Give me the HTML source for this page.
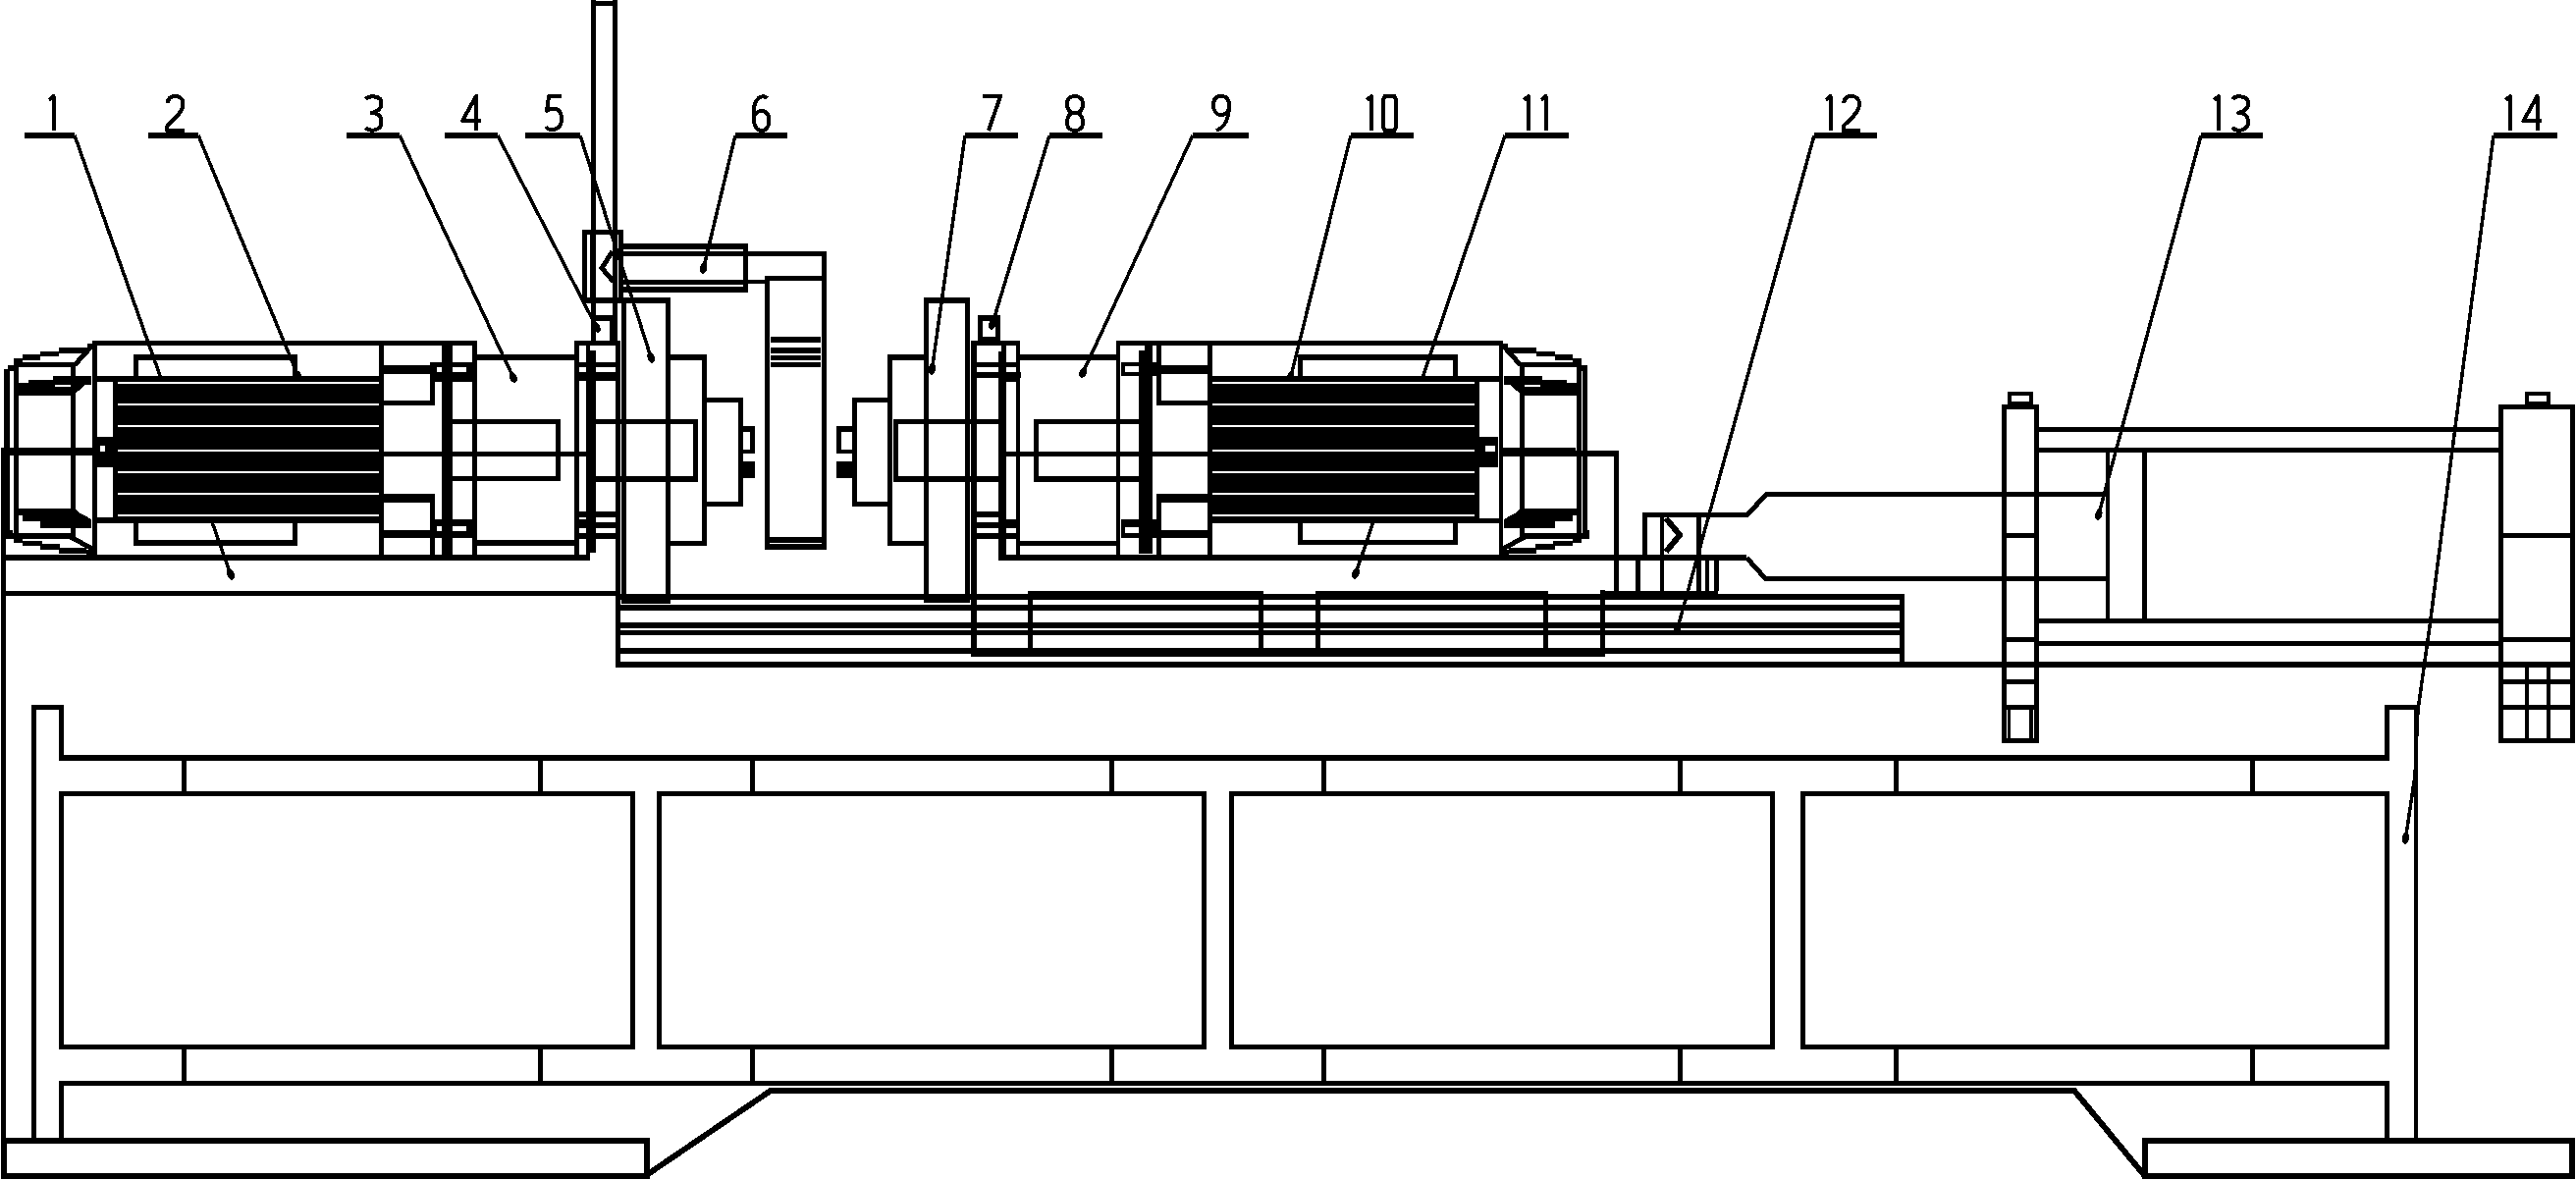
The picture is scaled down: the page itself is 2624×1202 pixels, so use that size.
<!DOCTYPE html>
<html><head><meta charset="utf-8"><style>
html,body{margin:0;padding:0;background:#fff;}
svg{display:block;}
</style></head><body>
<svg width="2624" height="1202" viewBox="0 0 2624 1202" shape-rendering="crispEdges">
<rect width="2624" height="1202" fill="#fff"/>
<g fill="#000">
<rect x="25" y="135" width="51" height="6"/>
<path transform="translate(53.5,96)" d="M-3.5,6 L1,2 L1,37" fill="none" stroke="#000" stroke-width="4" stroke-linejoin="round"/>
<path d="M76,138 L236,588" fill="none" stroke="#000" stroke-width="3.5" stroke-linecap="butt" stroke-linejoin="miter"/>
<ellipse cx="235.0" cy="585.2" rx="6" ry="3.6" transform="rotate(70.4 235.0 585.2)"/>
<rect x="151" y="135" width="51" height="6"/>
<path transform="translate(178.5,96)" d="M-8,9 C-7,3 -3,2 0,2 C5,2 8,5 8,10 C8,17 1,24 -8,32 L-8.5,37 L9,37" fill="none" stroke="#000" stroke-width="4" stroke-linejoin="round"/>
<path d="M202,138 L305,386" fill="none" stroke="#000" stroke-width="3.5" stroke-linecap="butt" stroke-linejoin="miter"/>
<ellipse cx="303.8" cy="383.2" rx="6" ry="3.6" transform="rotate(67.4 303.8 383.2)"/>
<rect x="353" y="135" width="54" height="6"/>
<path transform="translate(380.5,96)" d="M-8,5 C-5,1 8,1 8,9 C8,16 3,18 -2,19 C4,19 8,22 8,28 C8,37 -3,39 -8,34" fill="none" stroke="#000" stroke-width="4" stroke-linejoin="round"/>
<path d="M407,138 L524,387" fill="none" stroke="#000" stroke-width="3.5" stroke-linecap="butt" stroke-linejoin="miter"/>
<ellipse cx="522.7" cy="384.3" rx="6" ry="3.6" transform="rotate(64.8 522.7 384.3)"/>
<rect x="453" y="135" width="54" height="6"/>
<path transform="translate(480,96)" d="M5,37 L5,2 L-9,27 L9.5,27" fill="none" stroke="#000" stroke-width="4" stroke-linejoin="round"/>
<path d="M507,138 L609,336" fill="none" stroke="#000" stroke-width="3.5" stroke-linecap="butt" stroke-linejoin="miter"/>
<ellipse cx="607.6" cy="333.3" rx="6" ry="3.6" transform="rotate(62.7 607.6 333.3)"/>
<rect x="535" y="135" width="56" height="6"/>
<path transform="translate(564,96)" d="M8,2 L-5,2 L-7,17 C-2,13 8,13 8,25 C8,37 -4,39 -8,33" fill="none" stroke="#000" stroke-width="4" stroke-linejoin="round"/>
<path d="M591,138 L664,367" fill="none" stroke="#000" stroke-width="3.5" stroke-linecap="butt" stroke-linejoin="miter"/>
<ellipse cx="663.1" cy="364.1" rx="6" ry="3.6" transform="rotate(72.3 663.1 364.1)"/>
<rect x="749" y="135" width="53" height="6"/>
<path transform="translate(775.5,96)" d="M6,4 C1,0 -8,3 -8,20 C-8,34 -4,37 0,37 C5,37 8,33 8,27 C8,20 4,17 0,17 C-4,17 -8,21 -8,26" fill="none" stroke="#000" stroke-width="4" stroke-linejoin="round"/>
<path d="M749,138 L716,276" fill="none" stroke="#000" stroke-width="3.5" stroke-linecap="butt" stroke-linejoin="miter"/>
<ellipse cx="716.7" cy="273.1" rx="6" ry="3.6" transform="rotate(103.4 716.7 273.1)"/>
<rect x="983" y="135" width="54" height="6"/>
<path transform="translate(1010,96)" d="M-9,2 L9,2 L-3,37" fill="none" stroke="#000" stroke-width="4" stroke-linejoin="round"/>
<path d="M983,138 L949,379" fill="none" stroke="#000" stroke-width="3.5" stroke-linecap="butt" stroke-linejoin="miter"/>
<ellipse cx="949.4" cy="376.0" rx="6" ry="3.6" transform="rotate(98.0 949.4 376.0)"/>
<rect x="1069" y="135" width="54" height="6"/>
<path transform="translate(1095,96)" d="M0,19 C-6,19 -8,14 -8,10 C-8,4 -4,2 0,2 C4,2 8,4 8,10 C8,14 6,19 0,19 C-6,19 -8,24 -8,29 C-8,35 -4,37 0,37 C4,37 8,35 8,29 C8,24 6,19 0,19" fill="none" stroke="#000" stroke-width="4" stroke-linejoin="round"/>
<path d="M1069,138 L1010,333" fill="none" stroke="#000" stroke-width="3.5" stroke-linecap="butt" stroke-linejoin="miter"/>
<ellipse cx="1010.9" cy="330.1" rx="6" ry="3.6" transform="rotate(106.8 1010.9 330.1)"/>
<rect x="1215" y="135" width="57" height="6"/>
<path transform="translate(1244,96)" d="M8,12 C8,18 4,21 0,21 C-5,21 -8,17 -8,11 C-8,4 -4,2 0,2 C5,2 8,5 8,12 C8,25 3,34 -5,37" fill="none" stroke="#000" stroke-width="4" stroke-linejoin="round"/>
<path d="M1215,138 L1102,382" fill="none" stroke="#000" stroke-width="3.5" stroke-linecap="butt" stroke-linejoin="miter"/>
<ellipse cx="1103.3" cy="379.3" rx="6" ry="3.6" transform="rotate(114.8 1103.3 379.3)"/>
<rect x="1376" y="135" width="64" height="6"/>
<path transform="translate(1396,96)" d="M-3.5,6 L1,2 L1,37" fill="none" stroke="#000" stroke-width="4" stroke-linejoin="round"/>
<path transform="translate(1415.5,96)" d="M-5,2 L5,2 L6.5,6 L6.5,33 L5,37 L-5,37 L-6.5,33 L-6.5,6 Z" fill="none" stroke="#000" stroke-width="4" stroke-linejoin="round"/>
<path d="M1376,138 L1314,387" fill="none" stroke="#000" stroke-width="3.5" stroke-linecap="butt" stroke-linejoin="miter"/>
<ellipse cx="1314.7" cy="384.1" rx="6" ry="3.6" transform="rotate(104.0 1314.7 384.1)"/>
<rect x="1533" y="135" width="65" height="6"/>
<path transform="translate(1556,96)" d="M-3.5,6 L1,2 L1,37" fill="none" stroke="#000" stroke-width="4" stroke-linejoin="round"/>
<path transform="translate(1573.5,96)" d="M-3.5,6 L1,2 L1,37" fill="none" stroke="#000" stroke-width="4" stroke-linejoin="round"/>
<path d="M1533,138 L1380,587" fill="none" stroke="#000" stroke-width="3.5" stroke-linecap="butt" stroke-linejoin="miter"/>
<ellipse cx="1381.0" cy="584.2" rx="6" ry="3.6" transform="rotate(108.8 1381.0 584.2)"/>
<rect x="1848" y="135" width="64" height="6"/>
<path transform="translate(1863.5,96)" d="M-3.5,6 L1,2 L1,37" fill="none" stroke="#000" stroke-width="4" stroke-linejoin="round"/>
<path transform="translate(1886,96)" d="M-8,9 C-7,3 -3,2 0,2 C5,2 8,5 8,10 C8,17 1,24 -8,32 L-8.5,37 L9,37" fill="none" stroke="#000" stroke-width="4" stroke-linejoin="round"/>
<path d="M1848,138 L1708,643" fill="none" stroke="#000" stroke-width="3.5" stroke-linecap="butt" stroke-linejoin="miter"/>
<ellipse cx="1708.8" cy="640.1" rx="6" ry="3.6" transform="rotate(105.5 1708.8 640.1)"/>
<rect x="2242" y="135" width="63" height="6"/>
<path transform="translate(2259,96)" d="M-3.5,6 L1,2 L1,37" fill="none" stroke="#000" stroke-width="4" stroke-linejoin="round"/>
<path transform="translate(2282,96)" d="M-8,5 C-5,1 8,1 8,9 C8,16 3,18 -2,19 C4,19 8,22 8,28 C8,37 -3,39 -8,34" fill="none" stroke="#000" stroke-width="4" stroke-linejoin="round"/>
<path d="M2242,138 L2137,527" fill="none" stroke="#000" stroke-width="3.5" stroke-linecap="butt" stroke-linejoin="miter"/>
<ellipse cx="2137.8" cy="524.1" rx="6" ry="3.6" transform="rotate(105.1 2137.8 524.1)"/>
<rect x="2540" y="135" width="65" height="6"/>
<path transform="translate(2556,96)" d="M-3.5,6 L1,2 L1,37" fill="none" stroke="#000" stroke-width="4" stroke-linejoin="round"/>
<path transform="translate(2579.5,96)" d="M5,37 L5,2 L-9,27 L9.5,27" fill="none" stroke="#000" stroke-width="4" stroke-linejoin="round"/>
<path d="M2540,138 L2501,435 L2475,638 L2463,723 L2460,790 L2450,857" fill="none" stroke="#000" stroke-width="3.5" stroke-linecap="butt" stroke-linejoin="miter"/>
<ellipse cx="2450.4" cy="854.0" rx="6" ry="3.6" transform="rotate(98.5 2450.4 854.0)"/>
<rect x="1" y="460" width="5" height="741"/>
<rect x="1" y="1159" width="661" height="6"/>
<rect x="1" y="1195" width="661" height="6"/>
<rect x="1" y="1159" width="6" height="42"/>
<rect x="656" y="1159" width="6" height="42"/>
<rect x="32" y="718" width="33" height="5"/>
<rect x="32" y="718" width="5" height="441"/>
<rect x="60" y="718" width="5" height="56"/>
<rect x="2429" y="718" width="34" height="5"/>
<rect x="2459" y="718" width="4" height="441"/>
<rect x="2429" y="718" width="5" height="56"/>
<rect x="60" y="769" width="2374" height="6"/>
<rect x="60" y="1101" width="2374" height="5"/>
<rect x="60" y="806" width="587" height="5"/>
<rect x="60" y="1064" width="587" height="5"/>
<rect x="60" y="806" width="5" height="263"/>
<rect x="642" y="806" width="5" height="263"/>
<rect x="669" y="806" width="560" height="5"/>
<rect x="669" y="1064" width="560" height="5"/>
<rect x="669" y="806" width="5" height="263"/>
<rect x="1224" y="806" width="5" height="263"/>
<rect x="1252" y="806" width="556" height="5"/>
<rect x="1252" y="1064" width="556" height="5"/>
<rect x="1252" y="806" width="5" height="263"/>
<rect x="1803" y="806" width="5" height="263"/>
<rect x="1834" y="806" width="600" height="5"/>
<rect x="1834" y="1064" width="600" height="5"/>
<rect x="1834" y="806" width="5" height="263"/>
<rect x="2429" y="806" width="5" height="263"/>
<rect x="60" y="1101" width="5" height="58"/>
<rect x="2429" y="1101" width="5" height="58"/>
<rect x="185" y="775" width="5" height="31"/>
<rect x="185" y="1069" width="5" height="32"/>
<rect x="548" y="775" width="5" height="31"/>
<rect x="548" y="1069" width="5" height="32"/>
<rect x="764" y="775" width="5" height="31"/>
<rect x="764" y="1069" width="5" height="32"/>
<rect x="1130" y="775" width="5" height="31"/>
<rect x="1130" y="1069" width="5" height="32"/>
<rect x="1346" y="775" width="5" height="31"/>
<rect x="1346" y="1069" width="5" height="32"/>
<rect x="1709" y="775" width="5" height="31"/>
<rect x="1709" y="1069" width="5" height="32"/>
<rect x="1929" y="775" width="5" height="31"/>
<rect x="1929" y="1069" width="5" height="32"/>
<rect x="2292" y="775" width="5" height="31"/>
<rect x="2292" y="1069" width="5" height="32"/>
<rect x="2182" y="1159" width="441" height="6"/>
<rect x="2182" y="1195" width="441" height="6"/>
<rect x="2182" y="1159" width="6" height="42"/>
<rect x="2617" y="1159" width="6" height="42"/>
<rect x="783" y="1108" width="1332" height="6"/>
<path d="M785,1111 L660,1196" fill="none" stroke="#000" stroke-width="6" stroke-linecap="butt" stroke-linejoin="miter"/>
<path d="M2113,1111 L2184,1197" fill="none" stroke="#000" stroke-width="6" stroke-linecap="butt" stroke-linejoin="miter"/>
<rect x="6" y="565" width="595" height="6"/>
<rect x="1" y="602" width="631" height="5"/>
<rect x="627" y="602" width="5" height="78"/>
<rect x="632" y="605" width="1307" height="6"/>
<rect x="632" y="616" width="1307" height="6"/>
<rect x="632" y="634" width="1307" height="6"/>
<rect x="632" y="642" width="1307" height="5"/>
<rect x="632" y="660" width="1307" height="6"/>
<rect x="632" y="674" width="1990" height="6"/>
<rect x="1935" y="605" width="5" height="75"/>
<rect x="989" y="605" width="6" height="64"/>
<rect x="989" y="661" width="646" height="8"/>
<rect x="1630" y="601" width="5" height="67"/>
<rect x="1047" y="602" width="240" height="5"/>
<rect x="1047" y="664" width="240" height="5"/>
<rect x="1047" y="602" width="5" height="67"/>
<rect x="1282" y="602" width="5" height="67"/>
<rect x="1047" y="602" width="240" height="9"/>
<rect x="1340" y="602" width="237" height="5"/>
<rect x="1340" y="663" width="237" height="5"/>
<rect x="1340" y="602" width="5" height="66"/>
<rect x="1572" y="602" width="5" height="66"/>
<rect x="1340" y="602" width="237" height="8"/>
<rect x="1634" y="602" width="116" height="8"/>
<rect x="94" y="347" width="392" height="5"/>
<rect x="94" y="347" width="5" height="218"/>
<rect x="481" y="347" width="5" height="218"/>
<rect x="136" y="361" width="167" height="6"/>
<rect x="136" y="361" width="5" height="28"/>
<rect x="298" y="361" width="5" height="28"/>
<rect x="99" y="383" width="287" height="6"/>
<rect x="115" y="389" width="276" height="139"/>
<rect x="120" y="389" width="266" height="2" fill="#fff"/>
<rect x="120" y="411" width="266" height="2" fill="#fff"/>
<rect x="120" y="433" width="266" height="2" fill="#fff"/>
<rect x="120" y="458" width="266" height="2" fill="#fff"/>
<rect x="120" y="480" width="266" height="2" fill="#fff"/>
<rect x="120" y="502" width="266" height="2" fill="#fff"/>
<rect x="120" y="524" width="266" height="2" fill="#fff"/>
<rect x="99" y="527" width="287" height="6"/>
<rect x="136" y="527" width="5" height="29"/>
<rect x="298" y="527" width="5" height="29"/>
<rect x="136" y="550" width="167" height="6"/>
<rect x="386" y="347" width="5" height="218"/>
<rect x="391" y="372" width="47" height="9"/>
<rect x="443" y="369" width="38" height="20"/>
<rect x="445" y="374" width="30" height="5" fill="#fff"/>
<rect x="438" y="369" width="5" height="44"/>
<rect x="391" y="408" width="52" height="5"/>
<rect x="391" y="503" width="52" height="9"/>
<rect x="438" y="503" width="5" height="62"/>
<rect x="391" y="540" width="47" height="8"/>
<rect x="443" y="529" width="38" height="19"/>
<rect x="445" y="536" width="30" height="5" fill="#fff"/>
<rect x="450" y="352" width="11" height="213"/>
<rect x="1" y="456" width="114" height="8"/>
<rect x="391" y="460" width="206" height="5"/>
<rect x="99" y="445" width="16" height="31"/>
<rect x="102" y="454" width="5" height="6" fill="#fff"/>
<rect x="486" y="361" width="99" height="6"/>
<rect x="486" y="550" width="99" height="6"/>
<rect x="461" y="427" width="110" height="5"/>
<rect x="461" y="485" width="110" height="5"/>
<rect x="566" y="427" width="5" height="63"/>
<rect x="4" y="376" width="6" height="165"/>
<rect x="8" y="372" width="6" height="6"/>
<rect x="14" y="365" width="9" height="6"/>
<rect x="23" y="361" width="18" height="6"/>
<rect x="41" y="358" width="19" height="5"/>
<rect x="60" y="354" width="29" height="6"/>
<rect x="89" y="350" width="6" height="6"/>
<path d="M76,372 L94,352" fill="none" stroke="#000" stroke-width="5" stroke-linecap="butt" stroke-linejoin="miter"/>
<rect x="19" y="369" width="57" height="5"/>
<rect x="14" y="365" width="5" height="188"/>
<rect x="72" y="369" width="5" height="179"/>
<path d="M19,390 L29,390 L29,387 L54,387 L54,383 L93,383 L93,392 L86,392 L83,396 L77,400 L77,403 L19,403 Z"/>
<rect x="56" y="392" width="16" height="2" fill="#fff"/>
<path d="M19,518 L77,518 L80,522 L86,525 L93,529 L93,538 L41,538 L41,531 L23,531 L23,525 L19,525 Z"/>
<rect x="8" y="543" width="64" height="6"/>
<rect x="6" y="540" width="7" height="9"/>
<path d="M72,547 L94,559" fill="none" stroke="#000" stroke-width="5" stroke-linecap="butt" stroke-linejoin="miter"/>
<rect x="14" y="549" width="9" height="4"/>
<rect x="23" y="551" width="20" height="5"/>
<rect x="41" y="554" width="20" height="6"/>
<rect x="60" y="558" width="28" height="6"/>
<rect x="88" y="560" width="7" height="5"/>
<rect x="585" y="347" width="5" height="218"/>
<rect x="597" y="347" width="4" height="223"/>
<rect x="601" y="357" width="6" height="206"/>
<rect x="585" y="347" width="47" height="5"/>
<rect x="627" y="347" width="5" height="255"/>
<rect x="589" y="369" width="38" height="5"/>
<rect x="589" y="379" width="38" height="9"/>
<rect x="607" y="427" width="20" height="5"/>
<rect x="607" y="485" width="20" height="5"/>
<rect x="589" y="521" width="38" height="6"/>
<rect x="589" y="532" width="38" height="6"/>
<rect x="589" y="543" width="38" height="6"/>
<rect x="589" y="529" width="12" height="3"/>
<rect x="602" y="0" width="5" height="347"/>
<rect x="624" y="0" width="5" height="347"/>
<rect x="602" y="1" width="27" height="5"/>
<rect x="621" y="321" width="8" height="26"/>
<rect x="602" y="321" width="22" height="6"/>
<rect x="593" y="234" width="42" height="5"/>
<rect x="593" y="234" width="5" height="74"/>
<rect x="630" y="234" width="5" height="69"/>
<rect x="601" y="239" width="2" height="64"/>
<rect x="593" y="303" width="90" height="6"/>
<path d="M624,256 L613,273 L625,287" fill="none" stroke="#000" stroke-width="5" stroke-linecap="butt" stroke-linejoin="miter"/>
<rect x="635" y="248" width="127" height="6"/>
<rect x="635" y="256" width="127" height="5"/>
<rect x="635" y="285" width="127" height="5"/>
<rect x="635" y="292" width="127" height="6"/>
<rect x="757" y="248" width="5" height="50"/>
<rect x="762" y="285" width="18" height="4"/>
<rect x="762" y="256" width="80" height="5"/>
<rect x="837" y="256" width="5" height="304"/>
<rect x="779" y="281" width="5" height="279"/>
<rect x="779" y="281" width="63" height="5"/>
<rect x="785" y="343" width="51" height="6"/>
<rect x="785" y="354" width="51" height="6"/>
<rect x="785" y="362" width="51" height="5"/>
<rect x="785" y="369" width="51" height="5"/>
<rect x="784" y="547" width="53" height="6"/>
<rect x="779" y="554" width="63" height="6"/>
<rect x="633" y="303" width="5" height="312"/>
<rect x="630" y="350" width="2" height="252"/>
<rect x="678" y="303" width="5" height="312"/>
<rect x="633" y="609" width="50" height="6"/>
<rect x="682" y="361" width="37" height="6"/>
<rect x="682" y="551" width="37" height="5"/>
<rect x="715" y="361" width="5" height="195"/>
<rect x="719" y="405" width="38" height="5"/>
<rect x="719" y="511" width="38" height="5"/>
<rect x="752" y="405" width="5" height="111"/>
<rect x="757" y="434" width="12" height="6"/>
<rect x="757" y="458" width="12" height="4"/>
<rect x="764" y="434" width="5" height="28"/>
<rect x="757" y="470" width="12" height="17"/>
<rect x="604" y="427" width="107" height="5"/>
<rect x="604" y="485" width="107" height="6"/>
<rect x="706" y="427" width="5" height="64"/>
<rect x="941" y="303" width="5" height="311"/>
<rect x="983" y="303" width="5" height="311"/>
<rect x="941" y="303" width="47" height="6"/>
<rect x="941" y="608" width="47" height="6"/>
<rect x="904" y="361" width="37" height="6"/>
<rect x="904" y="551" width="37" height="5"/>
<rect x="904" y="361" width="5" height="195"/>
<rect x="868" y="405" width="36" height="5"/>
<rect x="868" y="511" width="36" height="5"/>
<rect x="868" y="405" width="5" height="111"/>
<rect x="852" y="434" width="16" height="6"/>
<rect x="852" y="458" width="16" height="4"/>
<rect x="852" y="434" width="5" height="28"/>
<rect x="852" y="470" width="16" height="17"/>
<rect x="910" y="427" width="108" height="5"/>
<rect x="910" y="485" width="108" height="6"/>
<rect x="910" y="427" width="5" height="64"/>
<rect x="989" y="347" width="6" height="322"/>
<rect x="989" y="347" width="50" height="5"/>
<rect x="1035" y="347" width="4" height="218"/>
<rect x="996" y="321" width="23" height="5"/>
<rect x="996" y="343" width="23" height="5"/>
<rect x="996" y="321" width="5" height="27"/>
<rect x="1014" y="321" width="5" height="27"/>
<rect x="996" y="321" width="23" height="6"/>
<rect x="1017" y="358" width="3" height="207"/>
<rect x="1020" y="352" width="5" height="213"/>
<rect x="995" y="369" width="40" height="5"/>
<rect x="995" y="379" width="45" height="6"/>
<rect x="1025" y="385" width="10" height="4"/>
<rect x="995" y="521" width="22" height="6"/>
<rect x="995" y="532" width="41" height="6"/>
<rect x="995" y="543" width="41" height="6"/>
<rect x="1025" y="529" width="10" height="3"/>
<rect x="1024" y="460" width="206" height="5"/>
<rect x="1039" y="361" width="98" height="6"/>
<rect x="1039" y="551" width="98" height="5"/>
<rect x="1053" y="427" width="107" height="5"/>
<rect x="1053" y="485" width="107" height="6"/>
<rect x="1053" y="427" width="5" height="64"/>
<rect x="1137" y="347" width="394" height="5"/>
<rect x="1137" y="347" width="4" height="218"/>
<rect x="1527" y="347" width="4" height="218"/>
<rect x="1322" y="361" width="163" height="6"/>
<rect x="1322" y="361" width="5" height="28"/>
<rect x="1480" y="361" width="5" height="28"/>
<rect x="1235" y="383" width="292" height="6"/>
<rect x="1230" y="389" width="277" height="139"/>
<rect x="1235" y="389" width="267" height="2" fill="#fff"/>
<rect x="1235" y="411" width="267" height="2" fill="#fff"/>
<rect x="1235" y="433" width="267" height="2" fill="#fff"/>
<rect x="1235" y="458" width="267" height="2" fill="#fff"/>
<rect x="1235" y="480" width="267" height="2" fill="#fff"/>
<rect x="1235" y="502" width="267" height="2" fill="#fff"/>
<rect x="1235" y="524" width="267" height="2" fill="#fff"/>
<rect x="1235" y="528" width="292" height="5"/>
<rect x="1322" y="528" width="5" height="27"/>
<rect x="1480" y="528" width="5" height="27"/>
<rect x="1322" y="550" width="163" height="5"/>
<rect x="1230" y="352" width="5" height="213"/>
<rect x="1142" y="369" width="36" height="14"/>
<rect x="1146" y="373" width="14" height="6" fill="#fff"/>
<rect x="1178" y="372" width="52" height="9"/>
<rect x="1178" y="351" width="5" height="62"/>
<rect x="1178" y="408" width="52" height="5"/>
<rect x="1178" y="503" width="52" height="9"/>
<rect x="1178" y="503" width="5" height="62"/>
<rect x="1142" y="529" width="36" height="19"/>
<rect x="1146" y="537" width="14" height="6" fill="#fff"/>
<rect x="1178" y="540" width="52" height="8"/>
<rect x="1160" y="357" width="6" height="207"/>
<rect x="1166" y="351" width="8" height="213"/>
<rect x="1507" y="445" width="19" height="31"/>
<rect x="1513" y="454" width="10" height="6" fill="#fff"/>
<g transform="translate(1625,0) scale(-1,1)">
<rect x="8" y="372" width="6" height="6"/>
<rect x="14" y="365" width="9" height="6"/>
<rect x="23" y="361" width="18" height="6"/>
<rect x="41" y="358" width="19" height="5"/>
<rect x="60" y="354" width="29" height="6"/>
<rect x="89" y="350" width="6" height="6"/>
<path d="M76,372 L94,352" fill="none" stroke="#000" stroke-width="5" stroke-linecap="butt" stroke-linejoin="miter"/>
<rect x="19" y="369" width="57" height="5"/>
<rect x="14" y="365" width="5" height="188"/>
<rect x="72" y="369" width="5" height="179"/>
<path d="M19,390 L29,390 L29,387 L54,387 L54,383 L93,383 L93,392 L86,392 L83,396 L77,400 L77,403 L19,403 Z"/>
<rect x="56" y="392" width="16" height="2" fill="#fff"/>
<path d="M19,518 L77,518 L80,522 L86,525 L93,529 L93,538 L41,538 L41,531 L23,531 L23,525 L19,525 Z"/>
<rect x="8" y="543" width="64" height="6"/>
<rect x="6" y="540" width="7" height="9"/>
<path d="M72,547 L94,559" fill="none" stroke="#000" stroke-width="5" stroke-linecap="butt" stroke-linejoin="miter"/>
<rect x="14" y="549" width="9" height="4"/>
<rect x="23" y="551" width="20" height="5"/>
<rect x="41" y="554" width="20" height="6"/>
<rect x="60" y="558" width="28" height="6"/>
<rect x="88" y="560" width="7" height="5"/>
</g>
<rect x="1612" y="372" width="5" height="172"/>
<rect x="1531" y="456" width="74" height="5"/>
<rect x="1531" y="459" width="118" height="6"/>
<rect x="1644" y="459" width="5" height="143"/>
<rect x="1017" y="565" width="762" height="6"/>
<rect x="2039" y="412" width="38" height="5"/>
<rect x="2039" y="752" width="38" height="5"/>
<rect x="2039" y="412" width="5" height="345"/>
<rect x="2072" y="412" width="5" height="345"/>
<rect x="2045" y="399" width="26" height="4"/>
<rect x="2045" y="409" width="26" height="4"/>
<rect x="2045" y="399" width="4" height="14"/>
<rect x="2067" y="399" width="4" height="14"/>
<rect x="2077" y="435" width="469" height="5"/>
<rect x="2077" y="456" width="469" height="5"/>
<rect x="2077" y="630" width="469" height="5"/>
<rect x="2077" y="653" width="469" height="5"/>
<rect x="2145" y="461" width="4" height="171"/>
<rect x="2182" y="461" width="5" height="171"/>
<rect x="2039" y="543" width="38" height="5"/>
<rect x="2039" y="649" width="38" height="5"/>
<rect x="2039" y="692" width="38" height="5"/>
<rect x="2039" y="718" width="38" height="5"/>
<rect x="2045" y="722" width="3" height="34"/>
<rect x="2067" y="722" width="4" height="34"/>
<rect x="2545" y="412" width="78" height="5"/>
<rect x="2545" y="752" width="78" height="5"/>
<rect x="2545" y="412" width="5" height="345"/>
<rect x="2618" y="412" width="5" height="345"/>
<rect x="2572" y="399" width="26" height="4"/>
<rect x="2572" y="409" width="26" height="4"/>
<rect x="2572" y="399" width="4" height="14"/>
<rect x="2594" y="399" width="4" height="14"/>
<rect x="2545" y="543" width="78" height="5"/>
<rect x="2545" y="649" width="78" height="5"/>
<rect x="2545" y="692" width="78" height="5"/>
<rect x="2545" y="718" width="78" height="5"/>
<rect x="2572" y="676" width="4" height="80"/>
<rect x="2594" y="676" width="4" height="80"/>
<path d="M1673,524 L1780,524 L1800,503 L2147,503" fill="none" stroke="#000" stroke-width="5" stroke-linecap="butt" stroke-linejoin="miter"/>
<path d="M1779,568 L1798,589 L2147,589" fill="none" stroke="#000" stroke-width="5" stroke-linecap="butt" stroke-linejoin="miter"/>
<rect x="1673" y="524" width="5" height="43"/>
<rect x="1691" y="527" width="4" height="75"/>
<path d="M1697,528 L1711,545 L1697,562" fill="none" stroke="#000" stroke-width="6" stroke-linecap="butt" stroke-linejoin="miter"/>
<rect x="1728" y="527" width="5" height="75"/>
<rect x="1666" y="570" width="5" height="32"/>
<rect x="1737" y="570" width="4" height="32"/>
<rect x="1746" y="570" width="5" height="32"/>
</g>
</svg>
</body></html>
